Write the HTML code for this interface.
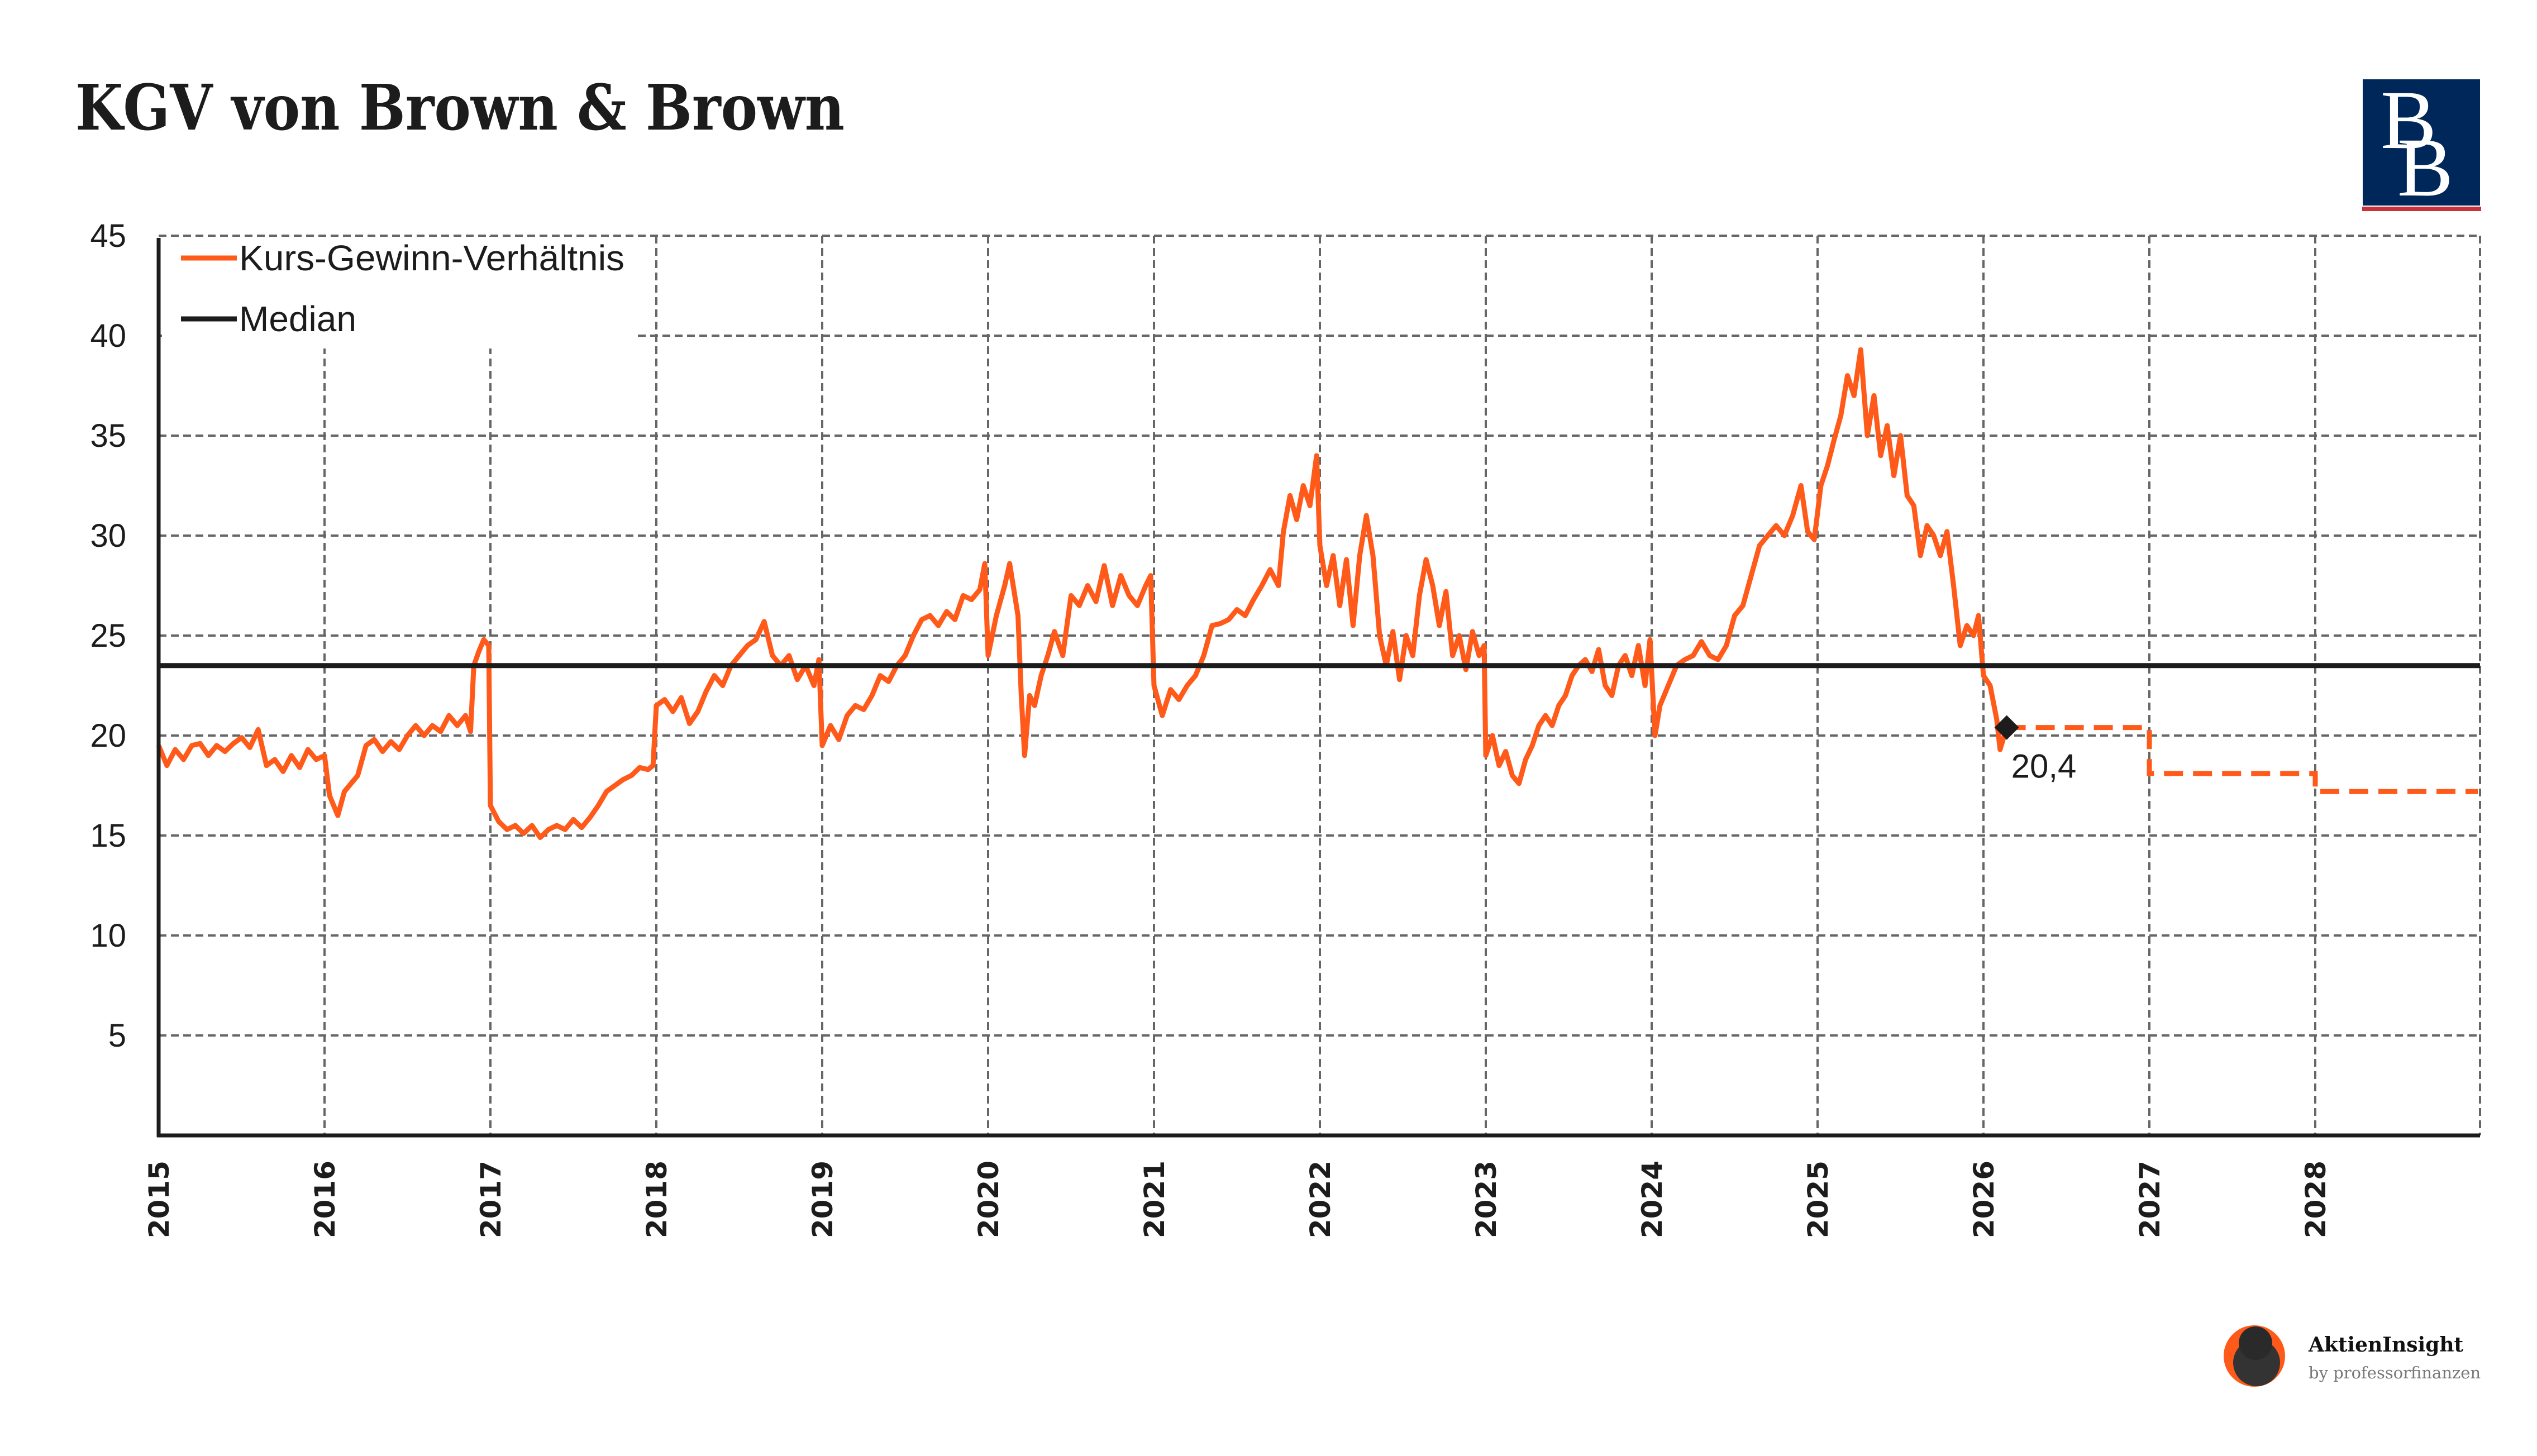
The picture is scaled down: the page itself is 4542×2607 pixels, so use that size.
<!DOCTYPE html>
<html><head><meta charset="utf-8"><style>
html,body{margin:0;padding:0;background:#fff;}
svg{display:block;}
</style></head><body>
<svg id="chart" width="4542" height="2607" viewBox="0 0 4542 2607" xmlns="http://www.w3.org/2000/svg">
<rect x="0" y="0" width="4542" height="2607" fill="#ffffff"/>
<text x="135" y="232" font-family="'DejaVu Serif','Liberation Serif',serif" font-weight="bold" font-size="112" fill="#1c1c1c" textLength="1377" lengthAdjust="spacingAndGlyphs">KGV von Brown &amp; Brown</text>
<g>
<rect x="4230" y="142" width="210" height="226" fill="#00275a"/>
<rect x="4229" y="370" width="213" height="8" fill="#c8323a"/>
<text x="4312" y="265" text-anchor="middle" font-family="'Liberation Serif',serif" font-size="150" fill="#fff">B</text>
<text x="4342" y="350" text-anchor="middle" font-family="'Liberation Serif',serif" font-size="150" fill="#fff">B</text>
</g>
<g id="grid"></g>
<rect x="290" y="424" width="846" height="200" fill="#fff"/>
<g id="marks"></g>
<g>
<g>
<line x1="324" y1="462" x2="424" y2="462" stroke="#ff5a1a" stroke-width="9"/>
<text x="428" y="484" font-family="'Liberation Sans',sans-serif" font-size="64" fill="#1c1c1c" textLength="690" lengthAdjust="spacingAndGlyphs">Kurs-Gewinn-Verhältnis</text>
</g>
<g>
<line x1="324" y1="571" x2="424" y2="571" stroke="#1c1c1c" stroke-width="9"/>
<text x="428" y="593" font-family="'Liberation Sans',sans-serif" font-size="64" fill="#1c1c1c">Median</text>
</g>
</g>
<g>
<circle cx="4036" cy="2428" r="55" fill="#ff5a1a"/>
<circle cx="4040" cy="2440" r="42" fill="#333"/>
<circle cx="4038" cy="2405" r="30" fill="#2a2a2a"/>
<text x="4133" y="2420" font-family="'DejaVu Serif',serif" font-weight="bold" font-size="36" fill="#111">AktienInsight</text>
<text x="4133" y="2468" font-family="'DejaVu Serif',serif" font-size="29" fill="#777">by professorfinanzen</text>
</g>
</svg>
<script>
const years = [2015,2016,2017,2018,2019,2020,2021,2022,2023,2024,2025,2026,2027,2028];
const yTicks = [5,10,15,20,25,30,35,40,45];
const medianValue = 23.5;
const lastValue = 20.4;
const lastLabel = "20,4";
const forecastYears = [2026.14,2027,2028,2028.98];
const forecastValues = [20.4,18.1,17.2,17.2];
const times = [2015.0,2015.05,2015.1,2015.15,2015.2,2015.25,2015.3,2015.35,2015.4,2015.45,2015.5,2015.55,2015.6,2015.65,2015.7,2015.75,2015.8,2015.85,2015.9,2015.95,2016.0,2016.03,2016.08,2016.12,2016.2,2016.25,2016.3,2016.35,2016.4,2016.45,2016.5,2016.55,2016.6,2016.65,2016.7,2016.75,2016.8,2016.85,2016.88,2016.9,2016.93,2016.96,2016.99,2017.0,2017.05,2017.1,2017.15,2017.2,2017.25,2017.3,2017.35,2017.4,2017.45,2017.5,2017.55,2017.6,2017.65,2017.7,2017.75,2017.8,2017.85,2017.9,2017.95,2017.98,2018.0,2018.05,2018.1,2018.15,2018.2,2018.25,2018.3,2018.35,2018.4,2018.45,2018.5,2018.55,2018.6,2018.65,2018.7,2018.75,2018.8,2018.85,2018.9,2018.95,2018.98,2019.0,2019.05,2019.1,2019.15,2019.2,2019.25,2019.3,2019.35,2019.4,2019.45,2019.5,2019.55,2019.6,2019.65,2019.7,2019.75,2019.8,2019.85,2019.9,2019.95,2019.98,2020.0,2020.05,2020.1,2020.13,2020.18,2020.2,2020.22,2020.25,2020.28,2020.32,2020.36,2020.4,2020.45,2020.5,2020.55,2020.6,2020.65,2020.7,2020.75,2020.8,2020.85,2020.9,2020.95,2020.98,2021.0,2021.05,2021.1,2021.15,2021.2,2021.25,2021.3,2021.35,2021.4,2021.45,2021.5,2021.55,2021.6,2021.65,2021.7,2021.75,2021.78,2021.82,2021.86,2021.9,2021.94,2021.98,2022.0,2022.04,2022.08,2022.12,2022.16,2022.2,2022.24,2022.28,2022.32,2022.36,2022.4,2022.44,2022.48,2022.52,2022.56,2022.6,2022.64,2022.68,2022.72,2022.76,2022.8,2022.84,2022.88,2022.92,2022.96,2022.99,2023.0,2023.04,2023.08,2023.12,2023.16,2023.2,2023.24,2023.28,2023.32,2023.36,2023.4,2023.44,2023.48,2023.52,2023.56,2023.6,2023.64,2023.68,2023.72,2023.76,2023.8,2023.84,2023.88,2023.92,2023.96,2023.99,2024.02,2024.05,2024.1,2024.15,2024.2,2024.25,2024.3,2024.35,2024.4,2024.45,2024.5,2024.55,2024.6,2024.65,2024.7,2024.75,2024.8,2024.85,2024.9,2024.94,2024.98,2025.02,2025.06,2025.1,2025.14,2025.18,2025.22,2025.26,2025.3,2025.34,2025.38,2025.42,2025.46,2025.5,2025.54,2025.58,2025.62,2025.66,2025.7,2025.74,2025.78,2025.82,2025.86,2025.9,2025.94,2025.97,2026.0,2026.04,2026.08,2026.1,2026.14];
const peValues = [19.5,18.5,19.3,18.8,19.5,19.6,19.0,19.5,19.2,19.6,19.9,19.4,20.3,18.5,18.8,18.2,19.0,18.4,19.3,18.8,19.0,17.0,16.0,17.2,18.0,19.5,19.8,19.2,19.7,19.3,20.0,20.5,20.0,20.5,20.2,21.0,20.5,21.0,20.2,23.5,24.2,24.8,24.5,16.5,15.7,15.3,15.5,15.1,15.5,14.9,15.3,15.5,15.3,15.8,15.4,15.9,16.5,17.2,17.5,17.8,18.0,18.4,18.3,18.5,21.5,21.8,21.2,21.9,20.6,21.2,22.2,23.0,22.5,23.5,24.0,24.5,24.8,25.7,24.0,23.5,24.0,22.8,23.5,22.5,23.8,19.5,20.5,19.8,21.0,21.5,21.3,22.0,23.0,22.7,23.5,24.0,25.0,25.8,26.0,25.5,26.2,25.8,27.0,26.8,27.3,28.6,24.0,26.0,27.5,28.6,26.0,22.0,19.0,22.0,21.5,23.0,24.0,25.2,24.0,27.0,26.5,27.5,26.7,28.5,26.5,28.0,27.0,26.5,27.5,28.0,22.5,21.0,22.3,21.8,22.5,23.0,24.0,25.5,25.6,25.8,26.3,26.0,26.8,27.5,28.3,27.5,30.2,32.0,30.8,32.5,31.5,34.0,29.5,27.5,29.0,26.5,28.8,25.5,29.0,31.0,29.0,25.0,23.5,25.2,22.8,25.0,24.0,27.0,28.8,27.5,25.5,27.2,24.0,25.0,23.3,25.2,24.0,24.5,19.0,20.0,18.5,19.2,18.0,17.6,18.8,19.5,20.5,21.0,20.5,21.5,22.0,23.0,23.5,23.8,23.2,24.3,22.5,22.0,23.5,24.0,23.0,24.5,22.5,24.8,20.0,21.5,22.5,23.5,23.8,24.0,24.7,24.0,23.8,24.5,26.0,26.5,28.0,29.5,30.0,30.5,30.0,31.0,32.5,30.2,29.8,32.5,33.5,34.8,36.0,38.0,37.0,39.3,35.0,37.0,34.0,35.5,33.0,35.0,32.0,31.5,29.0,30.5,30.0,29.0,30.2,27.5,24.5,25.5,25.0,26.0,23.0,22.5,20.8,19.3,20.4];

const NS = "http://www.w3.org/2000/svg";
const X0 = 284, XW = 297, Y0 = 2033, YU = 35.8, XR = 4440;
function xs(t){ return X0 + (t - 2015) * XW; }
function ys(v){ return Y0 - v * YU; }
function mk(tag, attrs, parent){ const e = document.createElementNS(NS, tag); for (const k in attrs) e.setAttribute(k, attrs[k]); parent.appendChild(e); return e; }
const svg = document.getElementById('chart');
const grid = document.getElementById('grid');
const marks = document.getElementById('marks');
const FF = "'Liberation Sans',sans-serif";

yTicks.forEach(v => {
  const l = mk('line', {x1: X0, x2: XR, y1: ys(v), y2: ys(v), stroke: '#666', 'stroke-width': 4, 'stroke-dasharray': '14 8'}, grid);
  
  
  const t = mk('text', {x: 226, y: ys(v) + 20, 'text-anchor': 'end', 'font-family': FF, 'font-size': 58, fill: '#1c1c1c'}, svg);
  t.textContent = v;
  
  
});
years.forEach(yr => {
  if (yr > 2015) {
    const l = mk('line', {x1: xs(yr), x2: xs(yr), y1: ys(45), y2: Y0, stroke: '#666', 'stroke-width': 4, 'stroke-dasharray': '14 8'}, grid);
    
    
  }
  const t = mk('text', {x: 0, y: 0, transform: 'translate(' + (xs(yr) + 18) + ',2078) rotate(-90)', 'text-anchor': 'end', 'font-family': "'DejaVu Sans',sans-serif", 'font-weight': 'bold', 'font-size': 50, fill: '#1c1c1c'}, svg);
  t.textContent = yr;
  
  
});
const rg = mk('line', {x1: XR, x2: XR, y1: ys(45), y2: Y0, stroke: '#666', 'stroke-width': 4, 'stroke-dasharray': '14 8'}, grid);



let d = '';
times.forEach((t, i) => { d += (i ? 'L' : 'M') + xs(t).toFixed(1) + ',' + ys(peValues[i]).toFixed(1); });
const pe = mk('path', {d: d, fill: 'none', stroke: '#ff5a1a', 'stroke-width': 9, 'stroke-linejoin': 'round'}, marks);



let fd = 'M' + xs(forecastYears[0]) + ',' + ys(forecastValues[0]);
for (let i = 1; i < forecastYears.length; i++) {
  fd += 'L' + xs(forecastYears[i]) + ',' + ys(forecastValues[i - 1]) + 'L' + xs(forecastYears[i]) + ',' + ys(forecastValues[i]);
}
const fc = mk('path', {d: fd, fill: 'none', stroke: '#ff5a1a', 'stroke-width': 9, 'stroke-dasharray': '34 18'}, marks);



const med = mk('line', {x1: X0, x2: XR, y1: ys(medianValue), y2: ys(medianValue), stroke: '#1c1c1c', 'stroke-width': 9}, marks);



const mx = xs(forecastYears[0]), my = ys(lastValue);
const dm = mk('path', {d: 'M' + mx + ',' + (my - 22) + 'L' + (mx + 22) + ',' + my + 'L' + mx + ',' + (my + 22) + 'L' + (mx - 22) + ',' + my + 'Z', fill: '#1c1c1c'}, marks);


const lt = mk('text', {x: mx + 8, y: my + 90, 'font-family': FF, 'font-size': 60, fill: '#1c1c1c'}, marks);
lt.textContent = lastLabel;



const ya = mk('line', {x1: X0, x2: X0, y1: ys(45) + 4, y2: Y0 + 3, stroke: '#1c1c1c', 'stroke-width': 7}, svg);


const xa = mk('line', {x1: X0 - 3, x2: XR, y1: Y0, y2: Y0, stroke: '#1c1c1c', 'stroke-width': 7}, svg);


</script>
</body></html>
